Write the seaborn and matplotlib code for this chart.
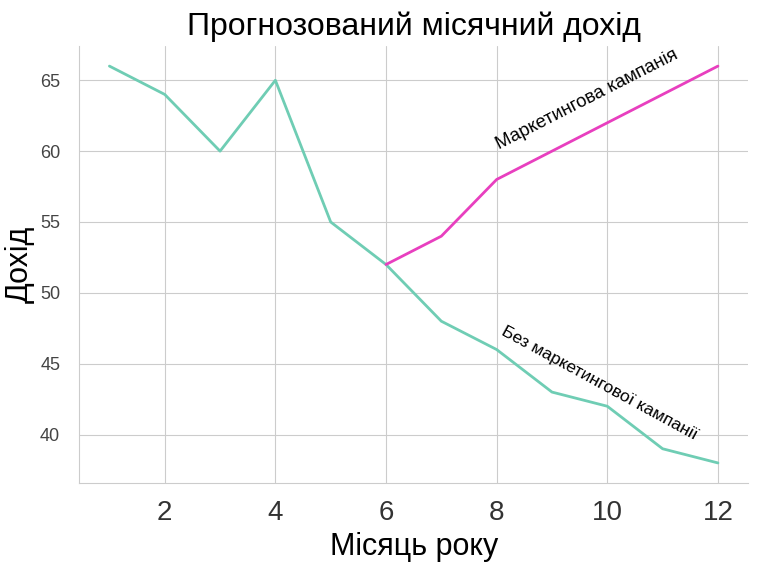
import numpy as np
import pandas as pd
import seaborn as sns
import matplotlib
matplotlib.use("Agg")
import matplotlib.pyplot as plt

# Data
months = [1, 2, 3, 4, 5, 6, 7, 8, 9, 10, 11, 12]
no_campaign = [66, 64, 60, 65, 55, 52, 48, 46, 43, 42, 39, 38]
campaign_months = [6, 7, 8, 9, 10, 11, 12]
campaign = [52, 54, 58, 60, 62, 64, 66]

sns.set_style("whitegrid")
plt.rcParams['font.family'] = ['Liberation Sans', 'DejaVu Sans']

fig, ax = plt.subplots(figsize=(7.82, 5.64), dpi=100)
fig.subplots_adjust(left=0.101, right=0.957, top=0.918, bottom=0.144)

sns.lineplot(x=months, y=no_campaign, color="#6fcdb4", linewidth=2, ax=ax)
sns.lineplot(x=campaign_months, y=campaign, color="#e83fbf", linewidth=2, ax=ax)
sns.despine(ax=ax)

ax.set_title("Прогнозований місячний дохід", fontsize=23, pad=8, color="black")
ax.set_xlabel("Місяць року", fontsize=22, labelpad=4, color="black")
ax.set_ylabel("Дохід", fontsize=22, color="black")
ax.yaxis.set_label_coords(-0.066, 0.5)
ax.tick_params(axis="x", labelsize=20, colors="#333333", pad=9)
ax.tick_params(axis="y", labelsize=13, colors="#444444", pad=10)
ax.set_xticks([2, 4, 6, 8, 10, 12])
ax.set_yticks([40, 45, 50, 55, 60, 65])

ax.text(8.04, 60.1, "Маркетингова кампанія", rotation=27, fontsize=13.4,
        ha="left", va="baseline", rotation_mode="anchor", color="black")
ax.text(8.06, 47.1, "Без маркетингової кампанії", rotation=-28.6, fontsize=12.5,
        ha="left", va="baseline", rotation_mode="anchor", color="black")

for s in ax.spines.values():
    s.set_color("#cccccc")

plt.savefig("out.png", dpi=100)
